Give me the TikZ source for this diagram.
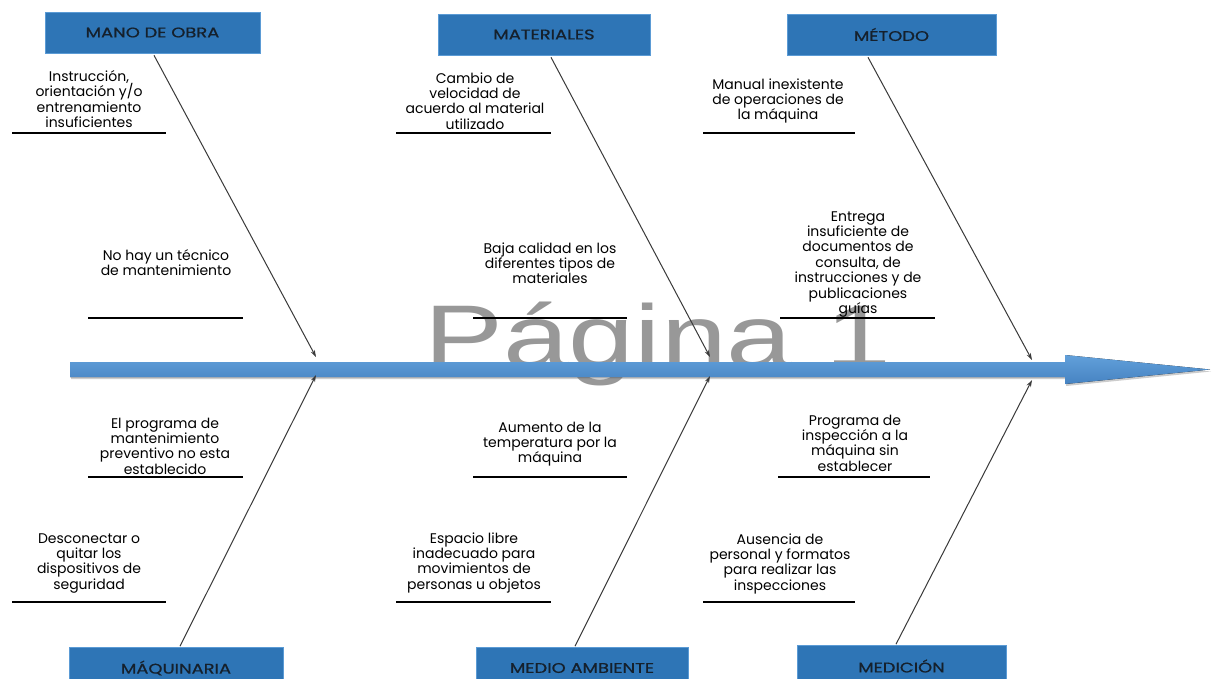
\documentclass[tikz,border=0pt]{standalone}
\usepackage{fontspec}
\setmainfont{Poppins}
\newfontfamily\headfont[FakeBold=0.7]{Poppins}
\newfontfamily\wmfont{Liberation Sans}
\usepackage{graphicx}
\usetikzlibrary{shadows,arrows.meta,calc}
\definecolor{boxblue}{HTML}{2E75B6}
\definecolor{boxedge}{HTML}{5B9BD5}
\definecolor{headtxt}{HTML}{15202C}
\definecolor{wmgray}{HTML}{989898}
\definecolor{spinetop}{HTML}{62A0DA}
\definecolor{spinebot}{HTML}{4683C2}
\definecolor{branchcol}{HTML}{3A3A3A}
\newcommand{\hd}[1]{\scalebox{1.28}[1]{#1}}
\newcommand{\causefont}{\fontsize{14}{15.4}\selectfont\lineskiplimit=-30pt\relax\lineskip=0pt\relax}
\begin{document}
\begin{tikzpicture}[x=1pt,y=-1pt,
  header/.style={draw=boxedge, line width=0.6pt, fill=boxblue, minimum height=41pt,
    inner sep=0pt, font=\headfont\fontsize{14}{16}\selectfont, text=headtxt},
  cause/.style={align=center, inner sep=0pt, anchor=north, yshift=10.8pt,
    font=\causefont, text=black},
  rulebar/.style={line width=2pt, black},
  branch/.style={draw=branchcol, line width=1pt, -{Stealth[length=7pt,width=4.5pt]}}
]
\useasboundingbox (0,0) rectangle (1213,678);
\clip (0,0) rectangle (1213,678);
\fill[white] (0,0) rectangle (1213,678);

% watermark
\node[inner sep=0pt, anchor=base west, text=wmgray, font=\wmfont\fontsize{89}{89}\selectfont]
  (wm) at (424,367) {\scalebox{1.33}[1]{Página 1}};

% spine
\fill[top color=spinetop, bottom color=spinebot,
  drop shadow={shadow xshift=1pt, shadow yshift=-2pt, opacity=0.4}]
  (70,362) -- (1065,362) -- (1065,355) -- (1210,369.5) -- (1065,384) -- (1065,377) -- (70,377) -- cycle;

% headers
\node[header, minimum width=215pt] (mo)  at (152.5,32.5) {\hd{MANO DE OBRA}};
\node[header, minimum width=212pt] (mat) at (544,34.5)   {\hd{MATERIALES}};
\node[header, minimum width=209pt] (met) at (891.5,34.5) {\hd{MÉTODO}};
\node[header, minimum width=214pt] (maq) at (176,668)  {\hd{MÁQUINARIA}};
\node[header, minimum width=212pt] (med) at (582,668)  {\hd{MEDIO AMBIENTE}};
\node[header, minimum width=209pt] (mdc) at (901.5,666)  {\hd{MEDICIÓN}};

% branch end points on spine
\coordinate (e1) at (316,357);
\coordinate (e2) at (710,357);
\coordinate (e3) at (1032,360);
\coordinate (e4) at (316,375);
\coordinate (e5) at (710,376);
\coordinate (e6) at (1032,380);

\draw[branch] ([xshift=1.5pt,yshift=-2pt]mo.south) -- (e1);
\draw[branch] ([xshift=7pt,yshift=-2pt]mat.south) -- (e2);
\draw[branch] ([xshift=-23.5pt,yshift=-2pt]met.south) -- (e3);
\draw[branch] ([xshift=4pt,yshift=1pt]maq.north) -- (e4);
\draw[branch] ([xshift=-7pt,yshift=1pt]med.north) -- (e5);
\draw[branch] ([xshift=-5.5pt,yshift=1pt]mdc.north) -- (e6);

% causes
\node[cause] (c1) at (89,81) {\strut Instrucción,\\orientación y/o\\entrenamiento\\insuficientes};
\node[cause] (c2) at (475,83) {\strut Cambio de\\velocidad de\\acuerdo al material\\utilizado};
\node[cause] (c3) at (778,89) {\strut Manual inexistente\\de operaciones de\\la máquina};
\node[cause] (c4) at (166,260) {\strut No hay un técnico\\de mantenimiento};
\node[cause] (c5) at (550,253) {\strut Baja calidad en los\\diferentes tipos de\\materiales};
\node[cause] (c6) at (858,221) {\strut Entrega\\insuficiente de\\documentos de\\consulta, de\\instrucciones y de\\publicaciones\\guías};
\node[cause] (c7) at (165,428) {\strut El programa de\\mantenimiento\\preventivo no esta\\establecido};
\node[cause] (c8) at (550,432) {\strut Aumento de la\\temperatura por la\\máquina};
\node[cause] (c9) at (855,425) {\strut Programa de\\inspección a la\\máquina sin\\establecer};
\node[cause] (c10) at (89,543) {\strut Desconectar o\\quitar los\\dispositivos de\\seguridad};
\node[cause] (c11) at (474,543) {\strut Espacio libre\\inadecuado para\\movimientos de\\personas u objetos};
\node[cause] (c12) at (780,544) {\strut Ausencia de\\personal y formatos\\para realizar las\\inspecciones};

% rules
\draw[rulebar] (12,132.5) -- (166,132.5);
\draw[rulebar] (396,132.5) -- (551,132.5);
\draw[rulebar] (703,132.5) -- (855,132.5);
\draw[rulebar] (88,318) -- (243,318);
\draw[rulebar] (473,318) -- (627,318);
\draw[rulebar] (780,318) -- (935,318);
\draw[rulebar] (88,477) -- (243,477);
\draw[rulebar] (473,477) -- (627,477);
\draw[rulebar] (778,477) -- (930,477);
\draw[rulebar] (12,601.5) -- (166,601.5);
\draw[rulebar] (396,601.5) -- (551,601.5);
\draw[rulebar] (703,601.5) -- (855,601.5);
\end{tikzpicture}
\end{document}
